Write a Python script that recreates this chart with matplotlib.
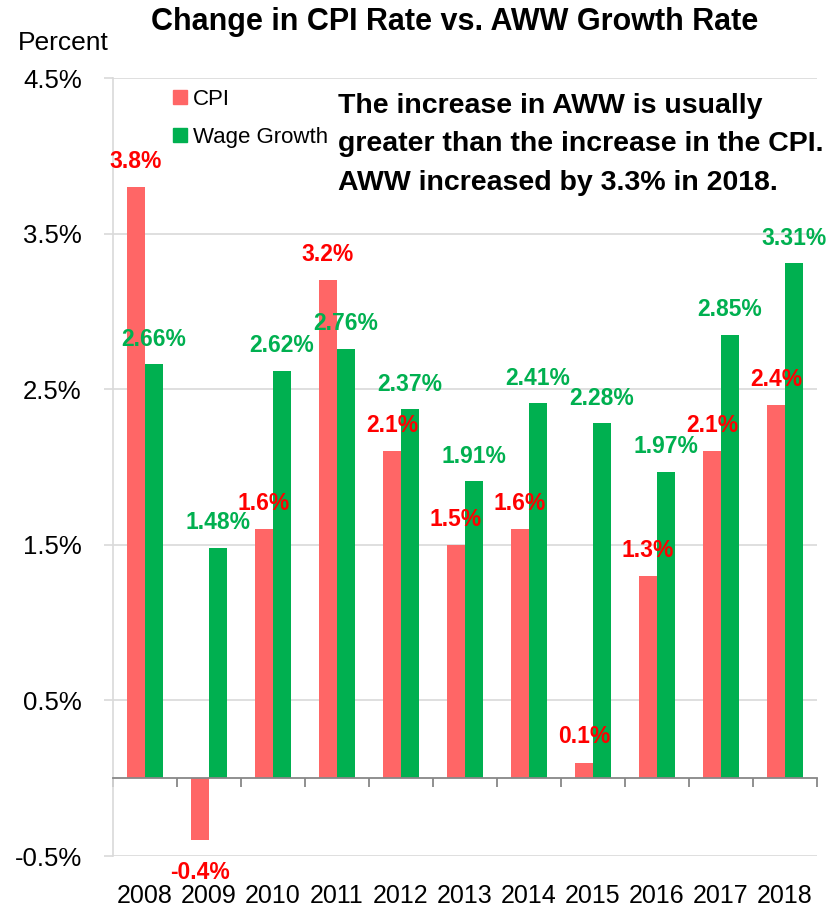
import matplotlib
matplotlib.use("Agg")
import matplotlib.pyplot as plt
import matplotlib.patches as mpatches
import numpy as np
from matplotlib.ticker import FuncFormatter

years = ["2008", "2009", "2010", "2011", "2012", "2013", "2014", "2015", "2016", "2017", "2018"]
cpi = [3.8, -0.4, 1.6, 3.2, 2.1, 1.5, 1.6, 0.1, 1.3, 2.1, 2.4]
wage = [2.66, 1.48, 2.62, 2.76, 2.37, 1.91, 2.41, 2.28, 1.97, 2.85, 3.31]
cpi_labels = ["3.8%", "-0.4%", "1.6%", "3.2%", "2.1%", "1.5%", "1.6%", "0.1%", "1.3%", "2.1%", "2.4%"]
wage_labels = ["2.66%", "1.48%", "2.62%", "2.76%", "2.37%", "1.91%", "2.41%", "2.28%", "1.97%", "2.85%", "3.31%"]
yticks = [-0.5, 0.5, 1.5, 2.5, 3.5, 4.5]

FONT = ["Liberation Sans", "DejaVu Sans"]
CPI_BAR = "#FF6666"
CPI_TXT = "#FF0000"
GREEN = "#00B050"
GRID = "#D9D9D9"

plt.rcParams["font.family"] = FONT


def main():
    fig = plt.figure(figsize=(8.36, 9.11), dpi=100)
    ax = fig.add_axes([113 / 836, 55 / 911, 704 / 836, 778 / 911])

    x = np.arange(len(years))
    w = 0.285
    ax.bar(x - w / 2, cpi, w, color=CPI_BAR, zorder=3)
    ax.bar(x + w / 2, wage, w, color=GREEN, zorder=3)

    # value labels above the bars (below for negatives)
    for i in range(len(years)):
        off = 18.5 if cpi[i] >= 0 else -23
        ax.annotate(cpi_labels[i], (x[i] - w / 2, cpi[i]), xytext=(0, off),
                    textcoords="offset points", ha="center", va="center",
                    color=CPI_TXT, fontsize=16.5, fontweight="bold", zorder=5)
        ax.annotate(wage_labels[i], (x[i] + w / 2, wage[i]), xytext=(0, 18),
                    textcoords="offset points", ha="center", va="center",
                    color=GREEN, fontsize=16.5, fontweight="bold", zorder=5)

    ax.set_xlim(-0.5, len(years) - 0.5)
    ax.set_ylim(-0.5, 4.5)
    ax.set_yticks(yticks)
    ax.yaxis.set_major_formatter(FuncFormatter(lambda v, p: f"{v:.1f}%"))
    ax.tick_params(axis="y", length=6.5, color=GRID, width=1.2, pad=16, labelsize=18.5)
    ax.grid(axis="y", color=GRID, lw=1.2, zorder=0)
    ax.set_axisbelow(True)

    for s in ["top", "right"]:
        ax.spines[s].set_visible(False)
    ax.spines["left"].set_color(GRID)
    ax.spines["left"].set_linewidth(1.2)
    ax.spines["bottom"].set_position(("data", 0))
    ax.spines["bottom"].set_color("#878787")
    ax.spines["bottom"].set_linewidth(1.3)
    ax.spines["bottom"].set_zorder(4)
    ax.set_xticks(np.arange(-0.5, len(years), 1.0))
    ax.tick_params(axis="x", length=6.5, color="#878787", width=1.3, labelbottom=False)

    sec = ax.secondary_xaxis("bottom")
    sec.set_xticks(x, years)
    sec.tick_params(length=0, pad=20, labelsize=18)
    sec.spines["bottom"].set_visible(False)

    handles = [mpatches.Patch(color=CPI_BAR, label="CPI"),
               mpatches.Patch(color=GREEN, label="Wage Growth")]
    fig.legend(handles=handles, loc="upper left", bbox_to_anchor=(153 / 836, 1 - 69 / 911),
               frameon=False, prop={"size": 16},
               handlelength=0.63, handleheight=0.63, handletextpad=0.25, labelspacing=0.75)

    fig.text(338 / 836, 1 - 93 / 911,
             "The increase in AWW is usually\ngreater than the increase in the CPI.\nAWW increased by 3.3% in 2018.",
             ha="left", va="top", fontsize=20.5, fontweight="bold", linespacing=1.62)

    fig.text(455 / 836, 1 - 22 / 911, "Change in CPI Rate vs. AWW Growth Rate",
             ha="center", va="center", fontsize=22, fontweight="bold")
    fig.text(63 / 836, 1 - 43 / 911, "Percent", ha="center", va="center", fontsize=19)

    fig.savefig("out.png", dpi=100)


if __name__ == "__main__":
    main()
